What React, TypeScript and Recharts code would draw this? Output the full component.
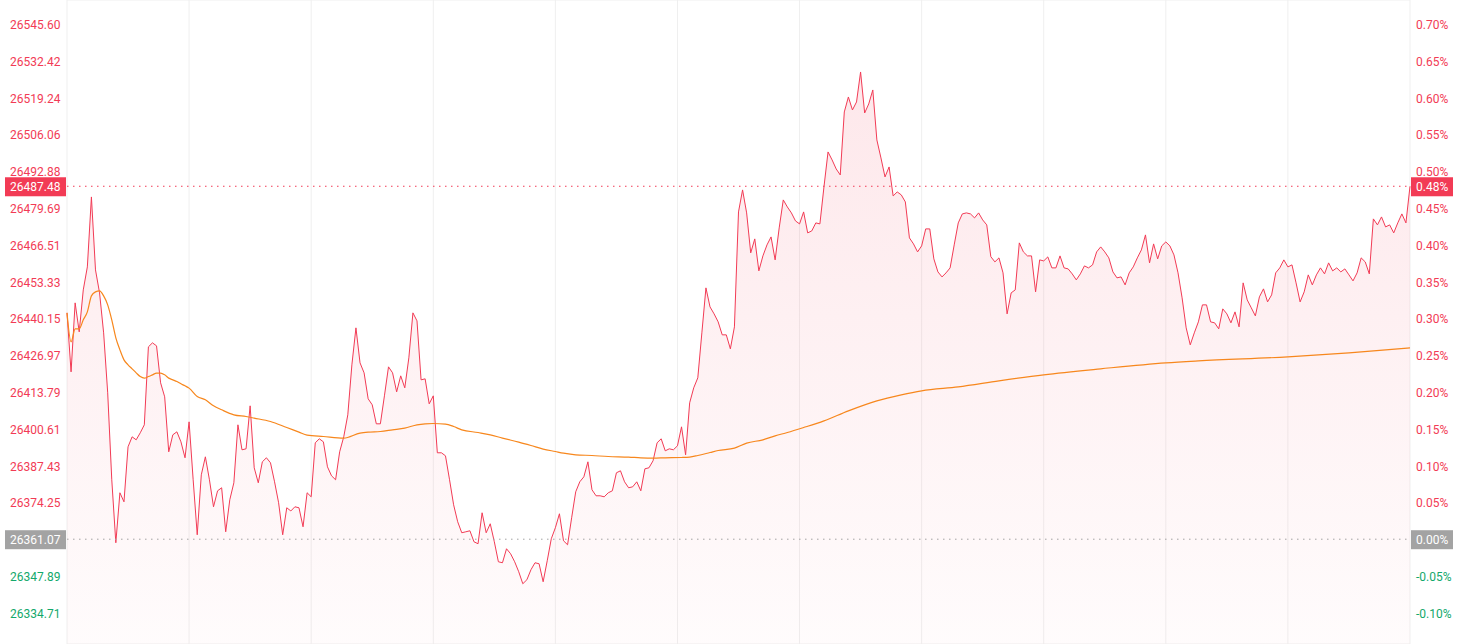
import { ComposedChart, Area, Line, XAxis, YAxis, CartesianGrid, ReferenceLine } from "recharts";

const prevClose = 26361.07;
const lastPrice = 26487.48;

const priceTicks = [
  26334.71, 26347.89, 26361.07, 26374.25, 26387.43, 26400.61, 26413.79, 26426.97, 26440.15,
  26453.33, 26466.51, 26479.69, 26492.88, 26506.06, 26519.24, 26532.42, 26545.6,
];
const minuteTicks = [0, 30, 60, 90, 120, 150, 180, 210, 240, 270, 300, 330];

// 09:30 - 12:00, one value a minute
const morningPrices = [
  26442.14, 26421.01, 26445.72, 26435.33, 26450.37, 26458.6, 26483.66, 26457.53, 26449.3, 26434.98,
  26413.5, 26382.35, 26359.8, 26377.7, 26374.47, 26394.16, 26397.74, 26396.67, 26399.18, 26402.04,
  26429.96, 26431.4, 26430.32, 26417.08, 26412.06, 26392.37, 26398.46, 26399.53, 26395.95, 26390.23,
  26403.11, 26382.35, 26362.66, 26384.14, 26390.58, 26382.35, 26372.68, 26378.41, 26379.49, 26363.73,
  26375.19, 26381.28, 26402.04, 26393.09, 26393.45, 26408.84, 26386.65, 26381.28, 26388.79, 26390.23,
  26388.44, 26381.63, 26374.12, 26362.66, 26372.33, 26371.19, 26372.68, 26372.33, 26365.52, 26377.7,
  26376.26, 26395.6, 26397.03, 26395.95, 26387.0, 26383.78, 26382.35, 26392.37, 26397.74, 26405.62,
  26423.52, 26436.77, 26424.24, 26420.66, 26411.35, 26409.2, 26402.4, 26402.4, 26412.42, 26422.8,
  26420.66, 26413.85, 26419.58, 26415.29, 26426.03, 26442.14, 26439.27, 26418.15, 26418.51, 26409.56,
  26412.42, 26392.02, 26392.02, 26390.94, 26382.35, 26373.4, 26367.31, 26363.38, 26363.73, 26364.09,
  26360.15, 26359.44, 26370.54, 26363.38, 26366.6, 26360.15, 26352.99, 26352.64, 26357.65, 26355.86,
  26352.99, 26349.41, 26345.12, 26346.55, 26350.13, 26352.64, 26352.28, 26345.83, 26353.35, 26361.23,
  26365.17, 26370.18, 26360.51, 26359.08, 26368.75, 26378.05, 26381.63, 26383.42, 26388.79, 26378.77,
  26376.62, 26376.62, 26376.26, 26377.7, 26378.41, 26384.86, 26385.57, 26381.63, 26379.49, 26379.84,
  26381.63, 26378.41, 26386.29, 26386.65, 26389.15, 26395.6, 26397.03, 26392.73, 26393.45, 26393.09,
  26394.52,
];

// 13:00 - 16:00
const afternoonPrices = [
  26401.32, 26391.3, 26409.92, 26415.29, 26418.87, 26434.98, 26451.09, 26444.28, 26441.78, 26438.91,
  26434.26, 26434.26, 26429.25, 26437.12, 26478.29, 26486.17, 26477.94, 26463.62, 26468.63, 26457.17,
  26462.54, 26466.48, 26469.34, 26461.11, 26472.57, 26482.59, 26480.08, 26477.94, 26475.07, 26474.0,
  26478.29, 26470.78, 26471.49, 26474.36, 26474.0, 26487.24, 26499.77, 26496.91, 26493.69, 26491.54,
  26514.09, 26519.46, 26514.81, 26517.67, 26528.41, 26513.73, 26516.96, 26521.97, 26504.07, 26497.63,
  26490.82, 26494.4, 26484.02, 26485.45, 26484.38, 26481.87, 26468.99, 26466.84, 26463.97, 26466.12,
  26472.21, 26472.21, 26461.47, 26456.81, 26455.02, 26456.46, 26458.25, 26466.48, 26474.36, 26477.58,
  26477.94, 26477.58, 26476.15, 26477.94, 26475.43, 26473.64, 26462.26, 26460.39, 26461.83, 26456.46,
  26441.78, 26449.3, 26450.37, 26467.2, 26463.97, 26462.54, 26462.54, 26449.66, 26461.11, 26460.75,
  26462.18, 26458.25, 26458.25, 26462.54, 26458.25, 26457.89, 26456.1, 26453.95, 26456.1, 26458.96,
  26458.25, 26459.32, 26463.97, 26465.76, 26463.97, 26461.83, 26456.81, 26454.67, 26455.02, 26452.16,
  26456.46, 26458.6, 26461.83, 26464.69, 26470.06, 26460.04, 26466.84, 26461.47, 26466.12, 26467.55,
  26466.12, 26462.9, 26456.46, 26447.51, 26436.77, 26430.68, 26434.98, 26438.91, 26445.0, 26445.0,
  26438.91, 26438.56, 26436.41, 26443.57, 26441.78, 26438.56, 26442.49, 26437.12, 26452.88, 26446.79,
  26443.93, 26441.06, 26447.86, 26450.73, 26446.07, 26448.58, 26456.46, 26458.25, 26461.11, 26458.6,
  26459.32, 26452.88, 26446.07, 26449.66, 26455.74, 26452.16, 26455.74, 26458.25, 26456.1, 26460.04,
  26457.17, 26458.25, 26456.81, 26457.89, 26455.74, 26453.59, 26456.46, 26461.83, 26460.39, 26456.1,
  26475.79, 26473.64, 26476.5, 26472.92, 26473.64, 26470.78, 26474.36, 26477.58, 26474.36, 26487.48,
];

// average price line, read at these minutes
const avgMinutes = [
  0, 1, 2, 3, 4, 5, 6, 7, 8, 9, 10, 11, 12, 13, 14, 15, 16, 17, 18, 19, 20, 21, 22, 23, 24, 25, 26, 27,
  28, 29, 30, 32, 34, 36, 38, 41, 44, 46, 50, 54, 57, 59, 63, 68, 72, 74, 77, 80, 83, 86, 88, 90, 93,
  95, 97, 101, 104, 107, 111, 114, 117, 120, 122, 125, 129, 133, 138, 141, 144, 147, 151, 153, 155,
  158, 160, 164, 167, 171, 174, 177, 181, 186, 192, 199, 205, 210, 219, 229, 240, 254, 270, 278, 300,
  315, 330,
];
const avgPrices = [
  26442.14, 26431.75, 26436.41, 26436.41, 26439.63, 26442.49, 26448.22, 26449.66, 26450.01, 26448.22,
  26445.0, 26439.63, 26433.19, 26428.89, 26425.31, 26423.52, 26422.09, 26420.66, 26419.33, 26418.76,
  26419.33, 26419.94, 26420.55, 26420.55, 26419.94, 26418.76, 26418.15, 26417.54, 26416.72, 26416.0,
  26415.18, 26412.17, 26410.99, 26408.84, 26407.41, 26405.62, 26405.01, 26404.44, 26403.22, 26401.07,
  26399.43, 26398.35, 26397.85, 26397.28, 26399.07, 26399.43, 26399.64, 26400.25, 26400.86, 26402.04,
  26402.4, 26402.51, 26402.29, 26401.43, 26400.25, 26399.28, 26398.46, 26397.28, 26395.85, 26394.63,
  26393.34, 26392.48, 26391.91, 26391.3, 26391.05, 26390.69, 26390.48, 26390.23, 26390.12, 26390.23,
  26390.33, 26390.48, 26391.05, 26392.12, 26392.84, 26393.7, 26395.49, 26396.67, 26398.1, 26399.28,
  26401.07, 26403.47, 26407.05, 26410.63, 26412.78, 26414.22, 26415.64, 26417.79, 26419.94, 26422.09,
  26424.24, 26424.95, 26426.38, 26427.82, 26429.61,
];

const yMin = 26323.54;
const yMax = 26554.19;

const UP = "#f23b55";
const DOWN = "#13a86b";
const FLAT = "#a3a3a3";
const AVG = "#f7871d";
const GRID = "#efefef";

const prices = [...morningPrices, ...afternoonPrices];
const data = prices.map((price, minute) => ({ minute, price, avg: null as number | null }));
avgMinutes.forEach((m, k) => {
  data[m].avg = avgPrices[k];
});

const pct = (v: number) => ((v / prevClose - 1) * 100).toFixed(2) + "%";
const isFlat = (v: number) => Math.abs(v - prevClose) < 0.005;
const colorOf = (v: number) => (v > prevClose ? UP : DOWN);

function Badge({ x, y, w, text, fill }: { x: number; y: number; w: number; text: string; fill: string }) {
  return (
    <g>
      <rect x={x} y={y - 9} width={w} height={19} fill={fill} />
      <text x={x + 5} y={y + 5} fontSize={12} fill="#fff">
        {text}
      </text>
    </g>
  );
}

function LeftTick(props: any) {
  const { y, payload } = props;
  const v = payload.value;
  if (isFlat(v)) return <Badge x={5} y={y} w={61} text={v.toFixed(2)} fill={FLAT} />;
  return (
    <text x={10} y={y + 5} fontSize={12} fill={colorOf(v)}>
      {v.toFixed(2)}
    </text>
  );
}

function RightTick(props: any) {
  const { y, payload } = props;
  const v = payload.value;
  if (isFlat(v)) return <Badge x={1411} y={y} w={42} text={pct(v)} fill={FLAT} />;
  return (
    <text x={1416} y={y + 5} fontSize={12} fill={colorOf(v)}>
      {pct(v)}
    </text>
  );
}

function LastBadges(props: any) {
  const { x, y, width } = props.viewBox;
  return (
    <g>
      <Badge x={x - 62} y={y} w={61} text={lastPrice.toFixed(2)} fill={UP} />
      <Badge x={x + width + 1} y={y} w={42} text={pct(lastPrice)} fill={UP} />
    </g>
  );
}

export default function App() {
  return (
    <div style={{ width: 1465, height: 644, fontFamily: "Roboto, sans-serif", background: "#fff", overflow: "hidden" }}>
      <style>{"body{margin:0;overflow:hidden}"}</style>
      <ComposedChart width={1465} height={644} data={data} margin={{ top: 0, right: 0, bottom: 0, left: 0 }}>
        <defs>
          <linearGradient id="priceFill" x1="0" y1="0" x2="0" y2="1">
            <stop offset="0%" stopColor={UP} stopOpacity={0.2} />
            <stop offset="100%" stopColor={UP} stopOpacity={0.03} />
          </linearGradient>
        </defs>
        <CartesianGrid stroke={GRID} />
        <XAxis type="number" dataKey="minute" domain={[0, 330]} ticks={minuteTicks} hide />
        <YAxis
          yAxisId="price"
          orientation="left"
          width={67}
          domain={[yMin, yMax]}
          ticks={priceTicks}
          interval={0}
          axisLine={false}
          tickLine={false}
          tick={<LeftTick />}
        />
        <YAxis
          yAxisId="pct"
          orientation="right"
          width={55}
          domain={[yMin, yMax]}
          ticks={priceTicks}
          interval={0}
          axisLine={false}
          tickLine={false}
          tick={<RightTick />}
        />
        <Area
          yAxisId="price"
          type="linear"
          dataKey="price"
          stroke={UP}
          strokeWidth={1}
          fill="url(#priceFill)"
          dot={false}
          activeDot={false}
          isAnimationActive={false}
        />
        <Line
          yAxisId="pct"
          type="monotone"
          dataKey="avg"
          stroke={AVG}
          strokeWidth={1.2}
          dot={false}
          connectNulls
          isAnimationActive={false}
        />
        <ReferenceLine yAxisId="price" y={prevClose} stroke={FLAT} strokeDasharray="1.5 4.5" />
        <ReferenceLine yAxisId="price" y={lastPrice} stroke={UP} strokeDasharray="1.5 4.5" label={<LastBadges />} />
      </ComposedChart>
    </div>
  );
}
